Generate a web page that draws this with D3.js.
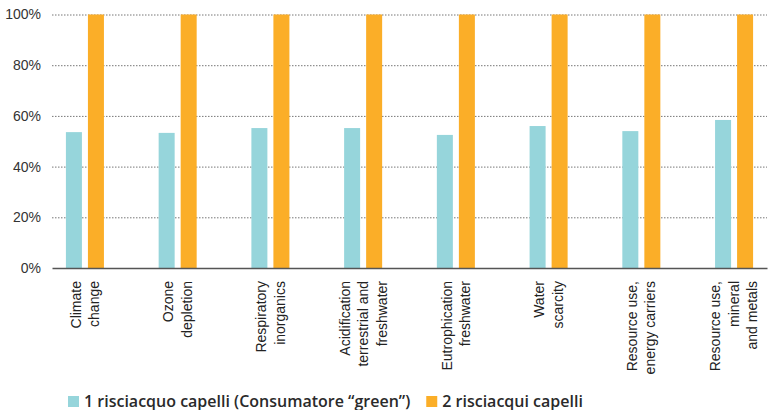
<!DOCTYPE html>
<html>
<head>
<meta charset="utf-8">
<script src="https://cdn.jsdelivr.net/npm/d3@7"></script>
<style>
  html, body { margin: 0; padding: 0; background: #fff; }
  svg { display: block; }
</style>
</head>
<body>
<svg id="chart" width="769" height="410"></svg>
<script>
// ---- Data ----
const categories = [
  "Climate change", "Ozone depletion", "Respiratory inorganics",
  "Acidification terrestrial and freshwater", "Eutrophication freshwater",
  "Water scarcity", "Resource use, energy carriers", "Resource use, mineral and metals"
];
const categoryLines = [
  ["Climate", "change"],
  ["Ozone", "depletion"],
  ["Respiratory", "inorganics"],
  ["Acidification", "terrestrial and", "freshwater"],
  ["Eutrophication", "freshwater"],
  ["Water", "scarcity"],
  ["Resource use,", "energy carriers"],
  ["Resource use,", "mineral", "and metals"]
];
const seriesNames = ["1 risciacquo capelli (Consumatore \u201cgreen\u201d)", "2 risciacqui capelli"];
const series1 = [0.536, 0.533, 0.552, 0.552, 0.525, 0.560, 0.540, 0.584];
const series2 = [1, 1, 1, 1, 1, 1, 1, 1];
const yTicks = [0, 0.2, 0.4, 0.6, 0.8, 1];
const colors = ["#96D5DB", "#FBAE28"];

// ---- Layout ----
const svg = d3.select("#chart");
const mLeft = 52, mRight = 767, mTop = 14.5, mBottom = 268;

const x0 = d3.scaleBand().domain(categories).range([mLeft, mRight])
  .paddingInner(0.59).paddingOuter(0.15);
const x1 = d3.scaleBand().domain([0, 1]).range([0, x0.bandwidth()]).paddingInner(0.273);
const y = d3.scaleLinear().domain([0, 1]).range([mBottom, mTop]);

// gridlines
const grid = svg.append("g").attr("class", "grid")
  .attr("transform", `translate(${mLeft},0)`)
  .call(d3.axisLeft(y).tickValues(yTicks.filter(d => d > 0)).tickSize(-(mRight - mLeft)).tickFormat(""));
grid.select(".domain").remove();
grid.selectAll(".tick line").attr("stroke", "#777").attr("stroke-width", 1).attr("stroke-dasharray", "1.5,1.5");

// y labels
const yAxis = svg.append("g").attr("transform", `translate(41,0)`)
  .call(d3.axisLeft(y).tickValues(yTicks).tickSize(0).tickPadding(0).tickFormat(d3.format(".0%")));
yAxis.select(".domain").remove();
yAxis.selectAll("text").attr("font-family", "Liberation Sans, Arial, sans-serif")
  .attr("font-size", 14).attr("fill", "#333");

// bars
const data = categories.map((c, i) => ({ c, vals: [series1[i], series2[i]] }));
const groups = svg.append("g").selectAll("g").data(data).join("g")
  .attr("transform", d => `translate(${x0(d.c)},0)`);
groups.selectAll("rect").data(d => d.vals.map((v, k) => ({ k, v }))).join("rect")
  .attr("x", d => x1(d.k))
  .attr("width", x1.bandwidth())
  .attr("y", d => y(d.v))
  .attr("height", d => y(0) - y(d.v))
  .attr("fill", d => colors[d.k]);

// baseline axis
const xAxis = svg.append("g").attr("transform", `translate(0,${mBottom})`)
  .call(d3.axisBottom(x0).tickSize(0).tickFormat(""));
xAxis.select(".domain").attr("stroke", "#555").attr("stroke-width", 1.5);

// x labels
const lineGap = 18.5;
const lab = svg.append("g");
categories.forEach((c, i) => {
  const cx = x0(c) + x0.bandwidth() / 2;
  const lines = categoryLines[i];
  lines.forEach((t, j) => {
    const lx = cx + (j - (lines.length - 1) / 2) * lineGap;
    lab.append("text")
      .attr("transform", `translate(${lx},281) rotate(-90)`)
      .attr("text-anchor", "end")
      .attr("dy", "0.35em")
      .attr("font-family", "Liberation Sans, Arial, sans-serif")
      .attr("font-size", 14)
      .attr("fill", "#222")
      .text(t);
  });
});

// legend
const leg = svg.append("g");
let legX = 68;
seriesNames.forEach((name, k) => {
  leg.append("rect").attr("x", legX).attr("y", 396).attr("width", 11).attr("height", 11).attr("fill", colors[k]);
  const t = leg.append("text").attr("x", legX + 16).attr("y", 406.5)
    .attr("font-family", "Open Sans, sans-serif").attr("font-weight", 600)
    .attr("font-size", 16).attr("fill", "#2a2a2a").text(name);
  legX = legX + 16 + t.node().getComputedTextLength() + 16;
});
</script>
</body>
</html>
